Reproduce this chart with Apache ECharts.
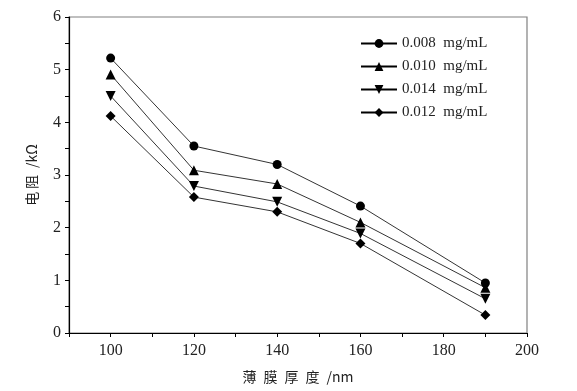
<!DOCTYPE html>
<html lang="zh-cn">
<head>
    <meta charset="utf-8">
    <style>
        html,body{margin:0;padding:0;background:#fff;}
        #chart{width:577px;height:391px;}
    </style>
</head>
<body>
<div id="chart"></div>
<script src="https://cdn.jsdelivr.net/npm/echarts@6/dist/echarts.min.js"></script>
<script>
    // 薄膜厚度 (nm)
    var thickness = [100, 120, 140, 160, 190];
    var seriesNames = ['0.008 mg/mL', '0.010 mg/mL', '0.014 mg/mL', '0.012 mg/mL'];
    // 电阻 (kΩ)
    var r008 = [5.22, 3.55, 3.20, 2.41, 0.95];
    var r010 = [4.91, 3.09, 2.83, 2.10, 0.86];
    var r014 = [4.50, 2.79, 2.49, 1.89, 0.65];
    var r012 = [4.12, 2.58, 2.30, 1.70, 0.34];
    var xLabels = [100, 120, 140, 160, 180, 200];
    var yLabels = [0, 1, 2, 3, 4, 5, 6];

    var serif = '"Liberation Serif", "Noto Sans CJK SC", serif';
    var cjk = '"Noto Sans CJK SC", "Liberation Serif", serif';
    var symbols = ['circle', 'triangle', 'path://M-1,-1L1,-1L0,1Z', 'diamond'];
    var sizes = [9, 10, 10, 10];
    var allData = [r008, r010, r014, r012];

    var series = allData.map(function (vals, i) {
        return {
            name: seriesNames[i],
            type: 'line',
            data: vals.map(function (v, j) { return [thickness[j], v]; }),
            symbol: symbols[i],
            symbolSize: sizes[i],
            symbolKeepAspect: true,
            lineStyle: {color: '#000', width: 0.8},
            itemStyle: {color: '#000'},
            animation: false
        };
    });

    var myChart = echarts.init(document.getElementById('chart'));
    myChart.setOption({
        backgroundColor: '#fff',
        grid: {
            left: 69, top: 17, right: 50, bottom: 58,
            show: true, borderColor: '#808080', borderWidth: 1.2
        },
        legend: {
            orient: 'vertical',
            left: 360,
            top: 36,
            padding: 0,
            itemGap: 8,
            itemWidth: 36,
            itemHeight: 11,
            textStyle: {fontFamily: serif, fontSize: 15, color: '#222'},
            formatter: function (n) { return n.replace(' ', '\u2002'); },
            data: seriesNames
        },
        xAxis: {
            type: 'value',
            min: 90,
            max: 200,
            interval: 10,
            name: '薄\u2002膜\u2002厚\u2002度\u2002/nm',
            nameLocation: 'middle',
            nameGap: 37,
            nameTextStyle: {fontFamily: cjk, fontSize: 14, color: '#222'},
            axisLine: {onZero: false, lineStyle: {color: '#000', width: 1.2}},
            axisTick: {show: true, length: 4, lineStyle: {color: '#000'}},
            splitLine: {show: false},
            axisLabel: {
                fontFamily: serif, fontSize: 16, color: '#222', margin: 10,
                formatter: function (v) {
                    return xLabels.indexOf(v) >= 0 ? String(v) : '';
                }
            }
        },
        yAxis: {
            type: 'value',
            min: 0,
            max: 6,
            interval: 1,
            name: '电\u2009阻\u2002/kΩ',
            nameLocation: 'middle',
            nameGap: 30,
            nameTextStyle: {fontFamily: cjk, fontSize: 14, color: '#222'},
            axisLine: {show: true, lineStyle: {color: '#000', width: 1.2}},
            axisTick: {show: true, length: 4, lineStyle: {color: '#000'}},
            minorTick: {show: true, splitNumber: 2, length: 4, lineStyle: {color: '#000'}},
            splitLine: {show: false},
            axisLabel: {
                fontFamily: serif, fontSize: 16, color: '#222', margin: 8,
                formatter: function (v) {
                    return yLabels.indexOf(v) >= 0 ? String(v) : '';
                }
            }
        },
        series: series
    });
</script>
</body>
</html>
